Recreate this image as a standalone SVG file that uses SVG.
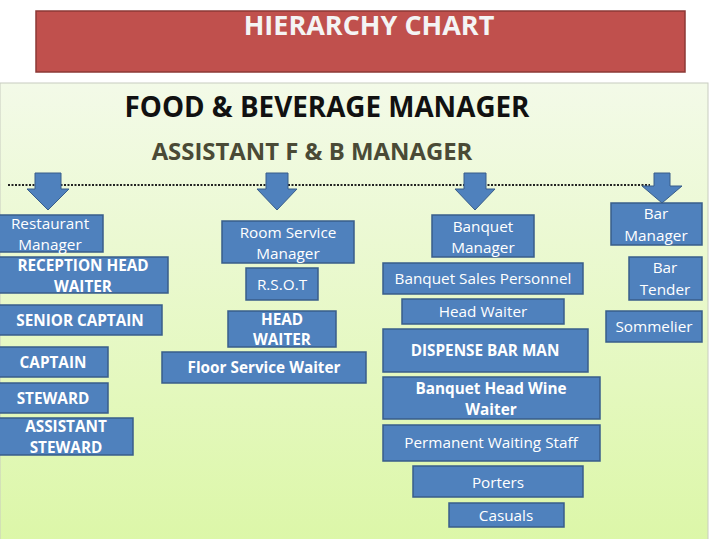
<svg xmlns="http://www.w3.org/2000/svg" width="720" height="539" viewBox="0 0 720 539">
<defs>
<linearGradient id="bg" x1="0" y1="0" x2="0" y2="1">
<stop offset="0" stop-color="#f3fae8"/>
<stop offset="1" stop-color="#dcf7a8"/>
</linearGradient>
</defs>
<style>
.box{fill:#4f81bd;stroke:#385d8a;stroke-width:1.5}
.t{font-family:"Open Sans","Liberation Sans",sans-serif;fill:#fff;text-anchor:middle;font-size:15.3px}
.b{font-weight:bold}
.arr{fill:#4f81bd;stroke:#385d8a;stroke-width:1}
</style>
<rect x="0" y="0" width="720" height="539" fill="#fff"/>
<rect x="0" y="83" width="708" height="460" fill="url(#bg)" stroke="#c8ccc0" stroke-width="1"/>
<g id="title">
<rect x="36" y="11" width="649" height="61" fill="#c0504d" stroke="#8c3836" stroke-width="1.5"/>
<text x="369" y="35" class="t b" style="font-size:27px;fill:#f4f4f4">HIERARCHY CHART</text>
</g>
<g id="fb-manager"><text x="327" y="117" style="font-family:'Open Sans','Liberation Sans',sans-serif;font-weight:bold;font-size:27.8px;fill:#111;text-anchor:middle">FOOD &amp; BEVERAGE MANAGER</text></g>
<g id="asst-manager"><text x="312" y="160" style="font-family:'Open Sans','Liberation Sans',sans-serif;font-weight:bold;font-size:23.9px;fill:#4a4a36;text-anchor:middle">ASSISTANT F &amp; B MANAGER</text></g>
<g id="connectors">
<line x1="8" y1="185" x2="650" y2="185" stroke="#222" stroke-width="2" stroke-dasharray="2,1.5"/>
<path class="arr" d="M35,173 H61 V189 H69 L48,210 L27,189 H35 Z"/>
<path class="arr" d="M266,173 H288 V189 H297 L277,210 L257,189 H266 Z"/>
<path class="arr" d="M464,173 H486 V189 H495 L475,210 L455,189 H464 Z"/>
<path class="arr" d="M654,173 H670 V186 H682 L662,203 L642,186 H654 Z"/>
</g>
<g id="restaurant-manager"><rect class="box" x="-1" y="215" width="104" height="37"/><text class="t" x="50" y="229">Restaurant</text><text class="t" x="50" y="250">Manager</text></g>
<g id="reception-head-waiter"><rect class="box" x="-1" y="257" width="169" height="36"/><text class="t b" x="83" y="271">RECEPTION HEAD</text><text class="t b" x="83" y="292">WAITER</text></g>
<g id="senior-captain"><rect class="box" x="-1" y="305" width="163" height="30"/><text class="t b" x="80" y="326">SENIOR CAPTAIN</text></g>
<g id="captain"><rect class="box" x="-1" y="347" width="109" height="30"/><text class="t b" x="53" y="368">CAPTAIN</text></g>
<g id="steward"><rect class="box" x="-1" y="383" width="109" height="30"/><text class="t b" x="53" y="404">STEWARD</text></g>
<g id="assistant-steward"><rect class="box" x="-1" y="418" width="134" height="37"/><text class="t b" x="66" y="432">ASSISTANT</text><text class="t b" x="66" y="453">STEWARD</text></g>
<g id="room-service-manager"><rect class="box" x="222" y="221" width="132" height="42"/><text class="t" x="288" y="238">Room Service</text><text class="t" x="288" y="259">Manager</text></g>
<g id="rsot"><rect class="box" x="246" y="268" width="72" height="32"/><text class="t" x="282" y="290">R.S.O.T</text></g>
<g id="head-waiter-rs"><rect class="box" x="228" y="311" width="108" height="36"/><text class="t b" x="282" y="325">HEAD</text><text class="t b" x="282" y="345">WAITER</text></g>
<g id="floor-service-waiter"><rect class="box" x="162" y="352" width="204" height="31"/><text class="t b" x="264" y="373">Floor Service Waiter</text></g>
<g id="banquet-manager"><rect class="box" x="432" y="215" width="102" height="42"/><text class="t" x="483" y="232">Banquet</text><text class="t" x="483" y="253">Manager</text></g>
<g id="banquet-sales"><rect class="box" x="383" y="263" width="200" height="31"/><text class="t" x="483" y="284">Banquet Sales Personnel</text></g>
<g id="head-waiter-bq"><rect class="box" x="402" y="299" width="162" height="25"/><text class="t" x="483" y="317">Head Waiter</text></g>
<g id="dispense-bar-man"><rect class="box" x="383" y="329" width="205" height="43"/><text class="t b" x="485" y="356">DISPENSE BAR MAN</text></g>
<g id="banquet-head-wine-waiter"><rect class="box" x="383" y="377" width="217" height="42"/><text class="t b" x="491" y="394">Banquet Head Wine</text><text class="t b" x="491" y="415">Waiter</text></g>
<g id="permanent-waiting-staff"><rect class="box" x="383" y="425" width="217" height="36"/><text class="t" x="491" y="448">Permanent Waiting Staff</text></g>
<g id="porters"><rect class="box" x="413" y="466" width="170" height="31"/><text class="t" x="498" y="488">Porters</text></g>
<g id="casuals"><rect class="box" x="449" y="503" width="115" height="24"/><text class="t" x="506" y="521">Casuals</text></g>
<g id="bar-manager"><rect class="box" x="611" y="203" width="91" height="42"/><text class="t" x="656" y="219">Bar</text><text class="t" x="656" y="241">Manager</text></g>
<g id="bar-tender"><rect class="box" x="629" y="257" width="73" height="43"/><text class="t" x="665" y="273">Bar</text><text class="t" x="665" y="295">Tender</text></g>
<g id="sommelier"><rect class="box" x="606" y="311" width="96" height="31"/><text class="t" x="654" y="332">Sommelier</text></g>
</svg>
